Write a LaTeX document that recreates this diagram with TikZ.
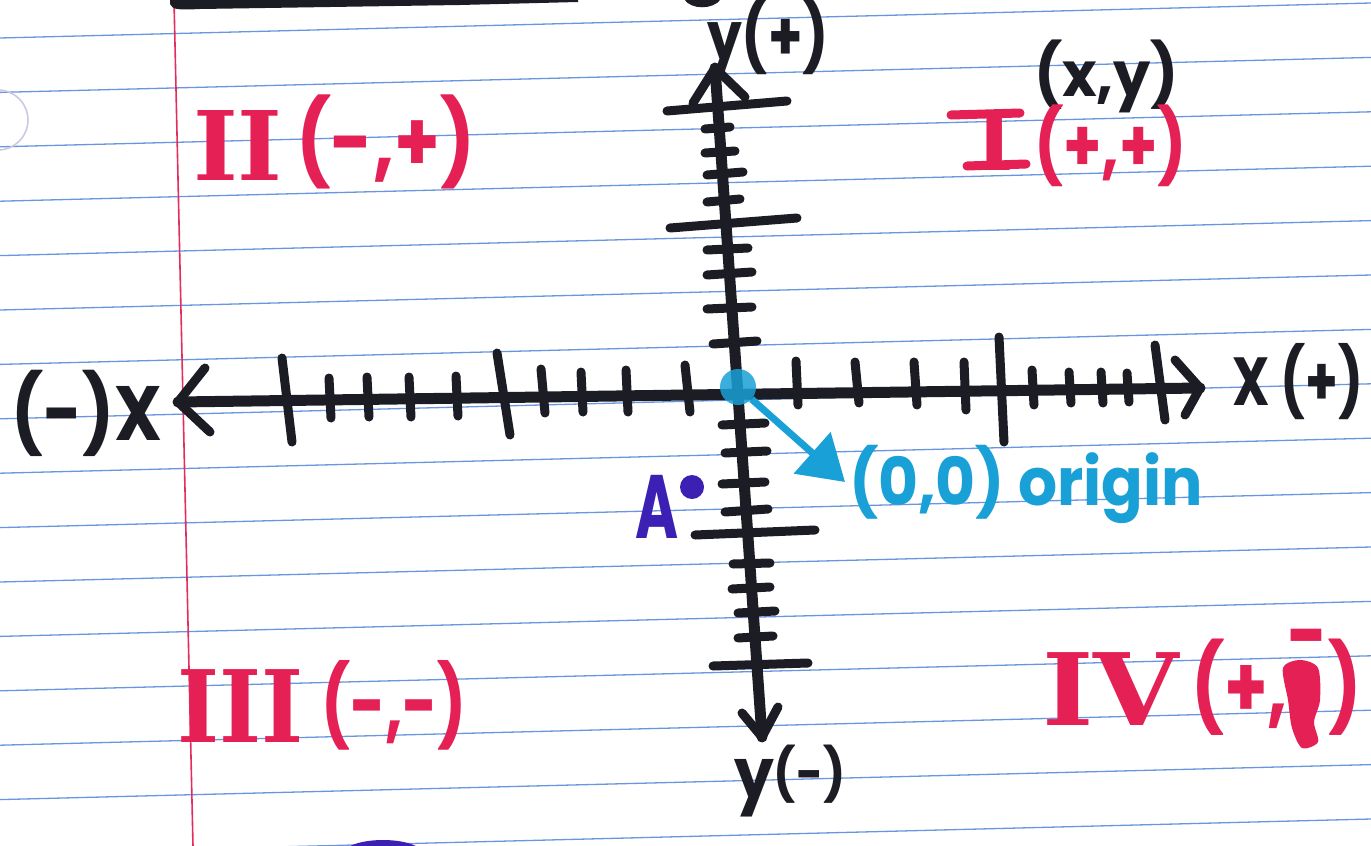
\documentclass[tikz,border=0pt]{standalone}
\usepackage{fontspec}
\setmainfont{Poppins}
\newfontfamily\romfont{DejaVu Serif}
\usetikzlibrary{arrows.meta}
\definecolor{ink}{RGB}{28,28,36}
\definecolor{redink}{RGB}{228,32,84}
\definecolor{cyanink}{RGB}{25,160,215}
\definecolor{ruleblue}{RGB}{105,150,225}
\definecolor{marginred}{RGB}{225,45,95}
\definecolor{violetink}{RGB}{60,32,180}
\definecolor{holegray}{RGB}{200,200,222}
\newcommand{\fsz}[1]{\fontsize{#1}{#1}\selectfont}
\newcommand{\hand}[3]{\scalebox{#2}[1]{\bfseries\fsz{#1}#3}}
\begin{document}
\begin{tikzpicture}[x=1pt,y=-1pt,
  lbl/.style={inner sep=0pt, outer sep=0pt, anchor=base west},
  axisline/.style={ink, line width=11pt, line cap=round, line join=round},
  tickline/.style={ink, line width=9pt, line cap=round},
  rulelinestyle/.style={ruleblue, line width=1.3pt},
  redbar/.style={redink, line width=9pt, line cap=round},
]
\useasboundingbox (0,0) rectangle (1371,846);
\clip (0,0) rectangle (1371,846);
\fill[white] (0,0) rectangle (1371,846);
% ruled lines
\foreach \k in {0,...,15}
  \draw[rulelinestyle] (0,{38+54.4*\k}) -- (1371,{3+54.4*\k});
% margin
\draw[marginred, line width=1.6pt] (174,0) -- (193,846);
% hole
\draw[holegray, line width=1.5pt] (-2,120) circle (30);
% top black stroke and blob
\fill[ink] (170,-5) -- (170,4) .. controls (172,10) and (180,10) .. (200,9) -- (460,5) -- (578,2) -- (578,-5) -- cycle;
\draw[ink, line width=7pt] (687,-3) .. controls (692,6) and (712,6) .. (718,-3);
% purple blob at bottom
\fill[violetink] (383,854) ellipse (40 and 14);

% axes
\coordinate (xL) at (178,402);
\coordinate (xR) at (1200,388);
\coordinate (yT) at (715,68);
\coordinate (yB) at (762,737);
\draw[axisline] (xL) -- (xR);
\draw[axisline] (yT) -- (yB);
% arrow heads
\draw[axisline, line width=9pt] (205,368) -- (xL) -- (210,432);
\draw[axisline, line width=9pt] (1175,360) -- (xR) -- (1185,415);
\draw[axisline, line width=9pt] (693,103) -- (yT) -- (745,97);
\draw[axisline, line width=9pt] (742,713) -- (yB) -- (778,707);
% x ticks
\foreach \a/\b/\c/\d in {282/358/292/442, 329/378/331/418, 367/377/369/417, 409/377/411/417,
  456/376/458/416, 497/353/510/435, 541/369/545/413, 581/372/583/412, 626/370/628/412,
  685/365/690/412, 796/361/798/405, 855/362/859/403, 914/362/917/405, 964/362/966/410,
  999/337/1004/442, 1032/370/1034/405, 1069/372/1071/403, 1101/372/1103/403,
  1127/373/1129/402, 1155/345/1165/420}
  \draw[tickline] (\a,\b) -- (\c,\d);
% y ticks
\foreach \a/\b/\c/\d in {667/111/787/101, 705/129/730/127, 705/153/735/151, 707/175/743/172,
  707/202/740/199, 670/228/797/218, 707/250/748/248, 707/275/752/272, 707/309/752/307,
  713/344/757/341, 722/425/765/423, 725/453/767/451, 722/484/765/482, 725/512/768/509,
  695/535/815/530, 733/564/770/563, 732/589/770/587, 738/613/775/611, 738/638/773/636,
  713/666/808/663}
  \draw[tickline] (\a,\b) -- (\c,\d);

% origin
\node[circle, fill=cyanink, minimum size=36pt, inner sep=0pt, opacity=0.85] (O) at (738,387) {};
\coordinate (otip) at (845,482);
\draw[cyanink, line width=7pt, -{Triangle[length=44pt,width=54pt]}] (O) -- (otip);
\node[lbl, cyanink] (orig) at (849,505) {\hand{66}{0.93}{(0,0) origin}};

% point A
\node[lbl, violetink] (A) at (635,538) {\hand{90}{0.65}{A}};
\node[circle, fill=violetink, minimum size=24pt, inner sep=0pt] (Adot) at (692,487) {};

% axis labels
\node[lbl, ink] (xneg) at (12,440) {\hand{77}{0.87}{(-)X}};
\node[lbl, ink] (xpos) at (1232,405) {\hand{68}{0.77}{X (+)}};
\node[lbl, ink] (ypos) at (707,60) {\hand{68}{0.81}{y(+)}};
\node[lbl, ink] (yneg) at (734,798) {\scalebox{0.9}[1]{\bfseries\fsz{70}y\fsz{52}\raisebox{6pt}{(-)}}};
\node[lbl, ink] (xy) at (1034,96) {\hand{62}{0.95}{(x,y)}};

% quadrant labels
\node[lbl, redink] (q2n) at (193,180) {\romfont\bfseries\fsz{96}II};
\node[lbl, redink] (q2s) at (296,171) {\hand{84}{0.87}{(-,+)}};
\node[inner sep=0pt, outer sep=0pt, anchor=base, redink] (q1n) at (995,170) {\romfont\bfseries\fsz{82}I};
\draw[redbar] (951,115) -- (1020,113);
\draw[redbar] (967,166) -- (1026,164);
\node[lbl, redink] (q1s) at (1034,171) {\hand{73}{0.84}{(+,+)}};
\node[lbl, redink] (q3n) at (177,742) {\scalebox{0.9}[1]{\romfont\bfseries\fsz{100}III}};
\node[lbl, redink] (q3s) at (321,733) {\hand{80}{0.76}{(-,-)}};
\node[lbl, redink] (q4n) at (1042,725) {\scalebox{1.1}[1]{\romfont\bfseries\fsz{100}IV}};
\fill[redink] plot[smooth cycle] coordinates {(1283,668) (1300,660) (1318,668) (1320,700) (1314,722) (1318,742) (1302,748) (1292,728) (1288,700)};
\node[lbl, redink] (q4s) at (1191,717) {\hand{86}{0.81}{(+,\raisebox{0.6em}{-})}};
\end{tikzpicture}
\end{document}
